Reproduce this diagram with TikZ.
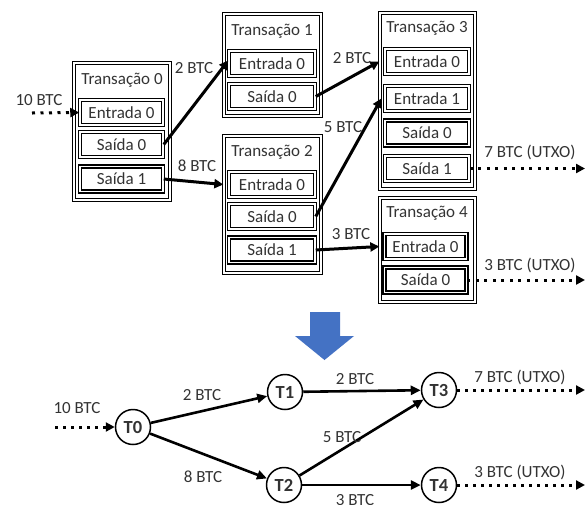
\documentclass[tikz,border=0pt]{standalone}
\usepackage{fontspec}
\setmainfont{Carlito}
\usetikzlibrary{arrows.meta}
\definecolor{txt}{HTML}{333333}
\definecolor{bluearrow}{HTML}{4472C4}
\begin{document}
\begin{tikzpicture}[x=1pt,y=-1pt,
  every node/.style={text=txt,font=\fontsize{17}{19}\selectfont,inner sep=0pt},
  obox/.style={draw=black,double=white,line width=1.3pt,double distance=1.4pt,rectangle},
  ibox/.style={draw=black,double=white,line width=1.5pt,double distance=1.1pt,rectangle,minimum height=25pt},
  flow/.style={line width=3pt,-{Triangle[length=9pt,width=9pt]}},
  dotflow/.style={line width=3pt,dash pattern=on 3pt off 5.5pt,-{Triangle[length=9pt,width=9pt]}},
  gflow/.style={line width=2.6pt,-{Triangle[length=10pt,width=9pt]}},
  gdot/.style={line width=3pt,dash pattern=on 3pt off 5pt,-{Triangle[length=9pt,width=9pt]}},
  tnode/.style={circle,draw=black,line width=1.5pt,minimum size=35pt,font=\fontsize{18.5}{20}\selectfont\bfseries},
]
\useasboundingbox (0,0) rectangle (585,504);

% ---------- Transação 0
\node[obox,minimum width=96pt,minimum height=137pt] (tx0) at (122,131.5) {};
\node (tt0) at (122,80) {Transação 0};
\node[ibox,minimum width=83pt] (t0e0) at (121.5,112.5) {Entrada 0};
\node[ibox,minimum width=83pt] (t0s0) at (121.5,144.5) {Saída 0};
\node[ibox,minimum width=83pt] (t0s1) at (121.5,179) {Saída 1};

% ---------- Transação 1
\node[obox,minimum width=97pt,minimum height=102pt] (tx1) at (272.5,65) {};
\node (tt1) at (272,31) {Transação 1};
\node[ibox,minimum width=86pt] (t1e0) at (272,63.5) {Entrada 0};
\node[ibox,minimum width=86pt] (t1s0) at (272,96.5) {Saída 0};

% ---------- Transação 2
\node[obox,minimum width=97pt,minimum height=137pt] (tx2) at (272.5,204.5) {};
\node (tt2) at (272,152) {Transação 2};
\node[ibox,minimum width=86pt] (t2e0) at (272,184.5) {Entrada 0};
\node[ibox,minimum width=86pt] (t2s0) at (272,216.5) {Saída 0};
\node[ibox,minimum width=86pt] (t2s1) at (272,250) {Saída 1};

% ---------- Transação 3
\node[obox,minimum width=95pt,minimum height=176pt] (tx3) at (427.5,101) {};
\node (tt3) at (427,28) {Transação 3};
\node[ibox,minimum width=84pt] (t3e0) at (427,61.5) {Entrada 0};
\node[ibox,minimum width=84pt] (t3e1) at (427,98.5) {Entrada 1};
\node[ibox,minimum width=84pt] (t3s0) at (427,133) {Saída 0};
\node[ibox,minimum width=84pt] (t3s1) at (427,168.5) {Saída 1};

% ---------- Transação 4
\node[obox,minimum width=95pt,minimum height=104pt] (tx4) at (427.5,250) {};
\node (tt4) at (427,213) {Transação 4};
\node[ibox,minimum width=82pt] (t4e0) at (425.5,246.5) {Entrada 0};
\node[ibox,minimum width=82pt] (t4s0) at (425.5,280) {Saída 0};

% ---------- top connectors
\coordinate (in0) at (32,113);
\coordinate (out3) at (585,168.5);
\coordinate (out4) at (585,280);
\draw[dotflow] (in0) -- (t0e0.west);
\node (l10) at (39,100) {10 BTC};
\draw[flow] (t0s0.east) -- ([yshift=3pt]t1e0.west);
\node (l2a) at (194,68) {2 BTC};
\draw[flow] (t0s1.east) -- (tx2.west |- t2e0);
\node (l8a) at (197,166) {8 BTC};
\draw[flow] (t1s0.east) -- (tx3.west |- t3e0);
\node (l2b) at (352,58) {2 BTC};
\draw[flow] (t2s0.east) -- ([xshift=2pt]tx3.west |- t3e1);
\node (l5a) at (343,127) {5 BTC};
\draw[flow] (t2s1.east) -- (tx4.west |- t4e0);
\node (l3a) at (351,234) {3 BTC};
\draw[dotflow] (t3s1.east) -- (out3);
\node (lu1) at (530,152) {7 BTC (UTXO)};
\draw[dotflow] (t4s0.east) -- (out4);
\node (lu2) at (530,265) {3 BTC (UTXO)};

% ---------- blue arrow
\fill[bluearrow] (310,312) -- (340,312) -- (340,336) -- (354,336) -- (324.5,360) -- (295,336) -- (310,336) -- cycle;

% ---------- bottom graph
\node[tnode] (T0) at (133,427) {T0};
\node[tnode] (T1) at (285,392) {T1};
\node[tnode] (T2) at (284,485) {T2};
\node[tnode] (T3) at (439,390) {T3};
\node[tnode] (T4) at (439,485) {T4};
\coordinate (gin) at (55,427);
\coordinate (gout3) at (585,390);
\coordinate (gout4) at (585,485);
\draw[gdot] (gin) -- (T0);
\node (g10) at (77,408) {10 BTC};
\draw[gflow] (T0) -- (T1);
\node (g2a) at (202,395) {2 BTC};
\draw[gflow] (T0) -- (T2);
\node (g8) at (203,477) {8 BTC};
\draw[gflow] (T1) -- (T3);
\node (g2b) at (355,379) {2 BTC};
\draw[gflow] (T2) -- (T3);
\node (g5) at (342,437) {5 BTC};
\draw[gflow] (T2) -- (T4);
\node (g3) at (355,500) {3 BTC};
\draw[gdot] (T3) -- (gout3);
\node (gu1) at (520,377) {7 BTC (UTXO)};
\draw[gdot] (T4) -- (gout4);
\node (gu2) at (520,472) {3 BTC (UTXO)};
\end{tikzpicture}
\end{document}
